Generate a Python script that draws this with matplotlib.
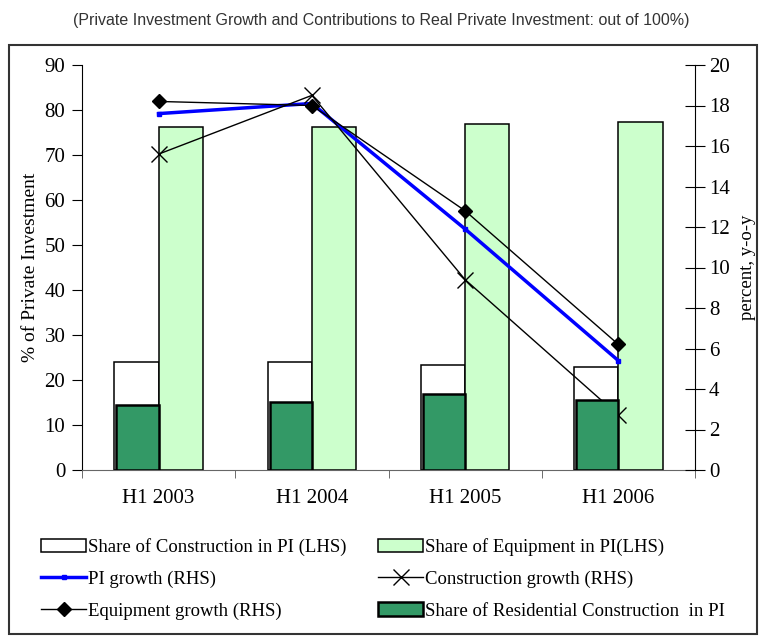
import numpy as np
import matplotlib
matplotlib.use('Agg')
import matplotlib.pyplot as plt
from matplotlib.patches import Rectangle

# data
periods = ['H1 2003', 'H1 2004', 'H1 2005', 'H1 2006']
share_construction = [24.0, 24.0, 23.3, 22.9]
share_equipment = [76.2, 76.2, 76.9, 77.3]
share_residential = [14.4, 15.2, 17.0, 15.6]
pi_growth = [17.6, 18.1, 11.9, 5.4]
construction_growth = [15.6, 18.5, 9.4, 2.7]
equipment_growth = [18.2, 18.0, 12.8, 6.2]

plt.rcParams['font.family'] = ['Liberation Serif', 'DejaVu Serif']

fig = plt.figure(figsize=(7.63, 6.42), dpi=100)
ax = fig.add_axes([82 / 763, 172 / 642, 613 / 763, 405 / 642])
x = np.arange(len(periods))
w = 0.288

# bars (left axis)
b_con = ax.bar(x - w, share_construction, width=w, align='edge',
               color='white', edgecolor='black', linewidth=1.1,
               label='Share of Construction in PI (LHS)')
b_eq = ax.bar(x, share_equipment, width=w, align='edge',
              color='#ccffcc', edgecolor='black', linewidth=1.1,
              label='Share of Equipment in PI(LHS)')

ax.set_xlim(-0.5, 3.5)
ax.set_ylim(0, 90)
ax.set_yticks(range(0, 91, 10))
ax.set_xticks(x)
ax.set_xticklabels(periods, fontsize=15)
ax.set_xticks(np.arange(-0.5, 3.6, 1), minor=True)
ax.tick_params(axis='x', which='major', length=0, pad=14)
ax.tick_params(axis='x', which='minor', length=6, color='#555555')
ax.tick_params(axis='y', labelsize=15, length=7, direction='out', pad=5)
ax.spines['top'].set_visible(False)
ax.spines['right'].set_visible(False)
ax.spines['bottom'].set_color('#666666')
ax.set_ylabel('% of Private Investment', fontsize=14, labelpad=4)

# lines (right axis)
ax2 = ax.twinx()
l_pi, = ax2.plot(x, pi_growth, color='blue', lw=2.5, marker='s', ms=3.5,
                 label='PI growth (RHS)')
l_con, = ax2.plot(x, construction_growth, color='black', lw=1, marker='x',
                  ms=12, mew=1, label='Construction growth (RHS)')
l_eq, = ax2.plot(x, equipment_growth, color='black', lw=1, marker='D', ms=7,
                 label='Equipment growth (RHS)')
ax2.set_ylim(0, 20)
ax2.set_yticks(range(0, 21, 2))
ax2.tick_params(axis='y', labelsize=15, length=14, direction='inout', pad=3)
for s in ['top', 'left', 'bottom']:
    ax2.spines[s].set_visible(False)
ax2.set_ylabel('percent, y-o-y', fontsize=13.5, labelpad=7)

# residential bars drawn on top of the lines
ax3 = ax.twinx()
b_res = ax3.bar(x - w + 0.012, share_residential, width=w - 0.012, align='edge',
                color='#339966', edgecolor='black', linewidth=1.8,
                label='Share of Residential Construction  in PI')
ax3.set_ylim(0, 90)
ax3.set_xlim(-0.5, 3.5)
ax3.axis('off')

fig.text(0.5, 0.968, '(Private Investment Growth and Contributions to Real Private Investment: out of 100%)',
         ha='center', va='center', fontsize=11.5, family='Liberation Sans', color='#333333')

# outer frame
fig.patches.append(Rectangle((9 / 763, 8 / 642), 748 / 763, 589 / 642,
                             transform=fig.transFigure, fill=False,
                             edgecolor='#333333', linewidth=1.5))

handles = [b_con, l_pi, l_eq, b_eq, l_con, b_res]
labels = [h.get_label() for h in handles]
fig.legend(handles, labels, loc='upper left', bbox_to_anchor=(0.054, 0.162),
           ncol=2, frameon=False, fontsize=13.5, handlelength=2.4,
           handletextpad=0.1, columnspacing=1.7, labelspacing=0.78,
           borderaxespad=0, borderpad=0)

fig.savefig('out.png', dpi=100)
